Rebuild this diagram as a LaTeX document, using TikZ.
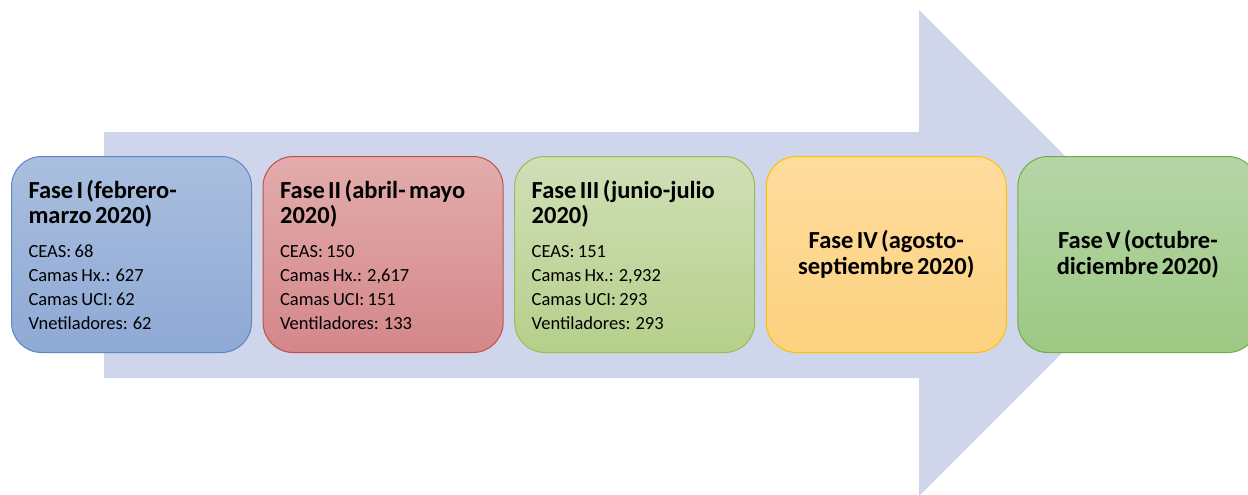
\documentclass[tikz,border=0pt]{standalone}
\usepackage{fontspec}
\setmainfont{Carlito}
\usetikzlibrary{positioning}
\definecolor{arrowfill}{HTML}{CFD5EA}
\definecolor{bluetop}{HTML}{AABFDF}
\definecolor{bluebot}{HTML}{8EA9D5}
\definecolor{blueline}{HTML}{5B87C5}
\definecolor{redtop}{HTML}{E3ACAC}
\definecolor{redbot}{HTML}{D4878A}
\definecolor{redline}{HTML}{C0504D}
\definecolor{greentop}{HTML}{D1DFB6}
\definecolor{greenbot}{HTML}{B5CF8B}
\definecolor{greenline}{HTML}{9BBB59}
\definecolor{yellowtop}{HTML}{FEDC9E}
\definecolor{yellowbot}{HTML}{FDD27F}
\definecolor{yellowline}{HTML}{FFC000}
\definecolor{leaftop}{HTML}{B5D5A6}
\definecolor{leafbot}{HTML}{9CC983}
\definecolor{leafline}{HTML}{70AD47}
\tikzstyle{fase}  = [rounded corners=30pt, minimum width=240pt, minimum height=196pt, text width=206pt, inner xsep=17pt, inner ysep=0pt, line width=1pt, align=left]
\tikzstyle{fasec} = [fase, align=center]
\newcommand{\fasetitle}[1]{{\fontsize{24.5}{25}\selectfont\bfseries #1\par}\vspace{10pt}}
\newcommand{\fasebody}[1]{{\fontsize{18.5}{24}\selectfont #1\par}\vspace{10pt}}
\newcommand{\fasebig}[1]{{\fontsize{24.5}{26}\selectfont\bfseries #1\par}}
\begin{document}
\begin{tikzpicture}[x=1pt,y=-1pt]
		\path[use as bounding box, clip] (0,0) rectangle (1248,495);

		% big arrow behind the phases
		\fill[arrowfill] (104,132) -- (919,132) -- (919,10) -- (1162,253) -- (919,496) -- (919,378) -- (104,378) -- cycle;

		\node[fase, top color=bluetop, bottom color=bluebot, draw=blueline] (f1) at (131.5,254.5)
			{\fasetitle{Fase I (febrero-\\marzo 2020)}\fasebody{CEAS: 68\\Camas Hx.: 627\\Camas UCI: 62\\Vnetiladores: 62}};
		\node[fase, top color=redtop, bottom color=redbot, draw=redline, right=10.6pt of f1] (f2)
			{\fasetitle{Fase II (abril- mayo\\2020)}\fasebody{CEAS: 150\\Camas Hx.: 2,617\\Camas UCI: 151\\Ventiladores: 133}};
		\node[fase, top color=greentop, bottom color=greenbot, draw=greenline, right=10.6pt of f2] (f3)
			{\fasetitle{Fase III (junio-julio\\2020)}\fasebody{CEAS: 151\\Camas Hx.: 2,932\\Camas UCI: 293\\Ventiladores: 293}};
		\node[fasec, top color=yellowtop, bottom color=yellowbot, draw=yellowline, right=10.6pt of f3] (f4)
			{\fasebig{Fase IV (agosto-\\septiembre 2020)}};
		\node[fasec, top color=leaftop, bottom color=leafbot, draw=leafline, right=10.6pt of f4] (f5)
			{\fasebig{Fase V (octubre-\\diciembre 2020)}};
	\end{tikzpicture}
\end{document}
